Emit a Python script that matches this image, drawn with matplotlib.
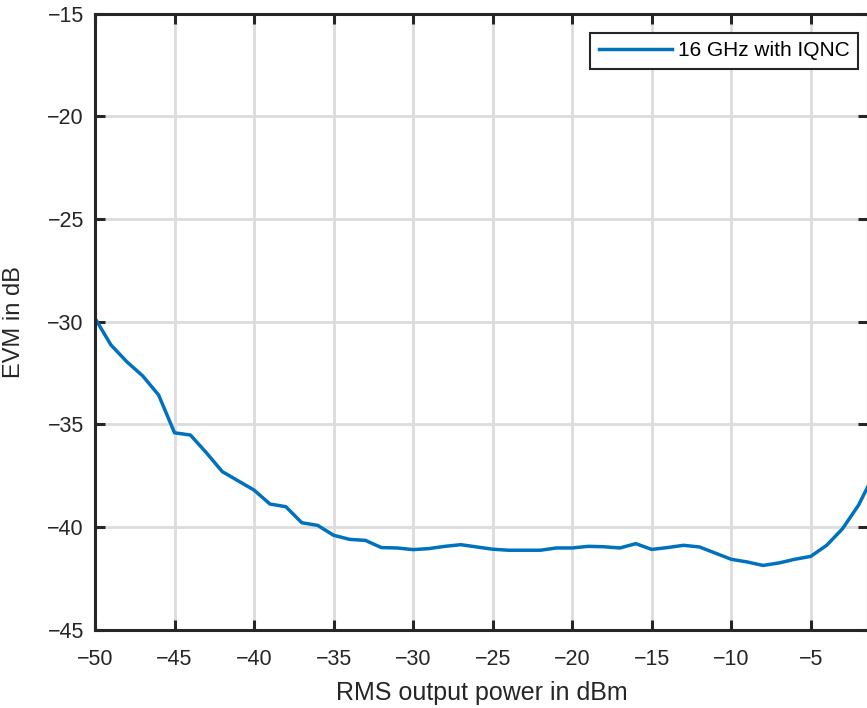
import matplotlib
matplotlib.use("Agg")
import matplotlib.pyplot as plt

# EVM vs RMS output power
power_dbm = [-50, -49, -48, -47, -46, -45, -44, -43, -42, -41,
             -40, -39, -38, -37, -36, -35, -34, -33, -32, -31,
             -30, -29, -28, -27, -26, -25, -24, -23, -22, -21,
             -20, -19, -18, -17, -16, -15, -14, -13, -12, -11,
             -10, -9, -8, -7, -6, -5, -4, -3, -2, -1]
evm_db = [-29.83, -31.13, -31.95, -32.64, -33.57, -35.41, -35.52, -36.38, -37.30, -37.75,
          -38.20, -38.88, -39.01, -39.79, -39.92, -40.40, -40.60, -40.65, -41.00, -41.02,
          -41.10, -41.05, -40.94, -40.86, -40.97, -41.08, -41.13, -41.13, -41.13, -41.02,
          -41.02, -40.94, -40.96, -41.02, -40.81, -41.09, -41.00, -40.89, -40.97, -41.27,
          -41.57, -41.70, -41.87, -41.75, -41.57, -41.43, -40.89, -40.08, -38.94, -37.40]
series_label = "16 GHz with IQNC"

plt.rcParams['font.family'] = ['Liberation Sans', 'DejaVu Sans']

fig = plt.figure(figsize=(8.67, 7.08), dpi=100)
ax = fig.add_axes([95 / 867, 1 - 629.7 / 708, 773 / 867, 616 / 708])

ax.plot(power_dbm, evm_db, color='#0072BD', linewidth=2.5, label=series_label)

ax.set_xlim(-50, -1.4)
ax.set_ylim(-45, -15)
ax.set_xticks(range(-50, 0, 5))
ax.set_yticks(range(-45, -14, 5))
ax.set_xticklabels([f"\u2212{abs(v)}" for v in range(-50, 0, 5)])
ax.set_yticklabels([f"\u2212{abs(v)}" for v in range(-45, -14, 5)])

ax.grid(True, color='#dcdcdc', linewidth=2.0)
ax.set_axisbelow(True)

for s in ax.spines.values():
    s.set_color('#262626')
    s.set_linewidth(2.2)
ax.tick_params(direction='in', length=7, width=2.2, color='#262626',
               labelcolor='#262626', labelsize=15.5, top=True, right=True)
ax.tick_params(axis='x', pad=14)
ax.tick_params(axis='y', pad=8)

ax.set_xlabel("RMS output power in dBm", fontsize=18, color='#262626', labelpad=8)
ax.set_ylabel("EVM in dB", fontsize=17, color='#262626', labelpad=16)

leg = ax.legend(loc='upper right', bbox_to_anchor=(0.987, 0.9687), borderaxespad=0,
                fontsize=15, fancybox=False, framealpha=1, edgecolor='#262626',
                handlelength=3.5, handletextpad=0.3, borderpad=0.4)
leg.get_frame().set_linewidth(1.5)

fig.savefig("out.png", dpi=100)
